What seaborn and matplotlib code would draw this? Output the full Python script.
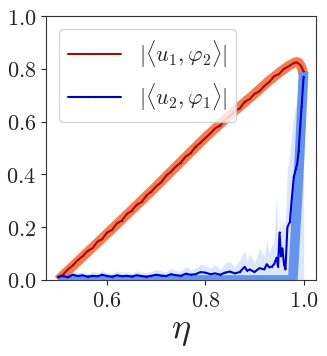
import matplotlib
matplotlib.use("Agg")

import matplotlib.pyplot as plt
import pandas as pd
import seaborn as sns

# theory curves
eta_th = [0.5, 0.55, 0.6, 0.65, 0.7, 0.75, 0.8, 0.85, 0.9, 0.93, 0.95, 0.97,
          0.98, 0.985, 0.99, 0.995, 1.0]
red_th = [0.0, 0.088, 0.176, 0.265, 0.355, 0.448, 0.54, 0.625, 0.705, 0.755,
          0.785, 0.812, 0.822, 0.826, 0.824, 0.81, 0.78]

eta_blue_th = [0.5, 0.978, 0.99, 1.0]
blue_th = [0.0, 0.0, 0.40, 0.79]

# measured |<u1, phi2>|
eta_red = [0.50, 0.51, 0.52, 0.53, 0.54, 0.55, 0.56, 0.57, 0.58, 0.59,
           0.60, 0.61, 0.62, 0.63, 0.64, 0.65, 0.66, 0.67, 0.68, 0.69,
           0.70, 0.71, 0.72, 0.73, 0.74, 0.75, 0.76, 0.77, 0.78, 0.79,
           0.80, 0.81, 0.82, 0.83, 0.84, 0.85, 0.86, 0.87, 0.88, 0.89,
           0.90, 0.91, 0.92, 0.93, 0.94, 0.95, 0.96, 0.97, 0.98, 0.985,
           0.99, 0.995, 1.0]
red_val = [0.01, 0.02, 0.04, 0.055, 0.075, 0.09, 0.11, 0.12, 0.145, 0.155,
           0.18, 0.19, 0.215, 0.225, 0.25, 0.262, 0.285, 0.295, 0.32, 0.335,
           0.355, 0.37, 0.395, 0.41, 0.43, 0.445, 0.468, 0.48, 0.505, 0.52,
           0.538, 0.555, 0.575, 0.585, 0.608, 0.62, 0.64, 0.65, 0.675, 0.685,
           0.705, 0.715, 0.735, 0.75, 0.772, 0.78, 0.80, 0.81, 0.822, 0.825,
           0.82, 0.81, 0.79]

# measured |<u2, phi1>| with spread
eta_blue = [0.50, 0.51, 0.52, 0.53, 0.54, 0.55, 0.56, 0.57, 0.58, 0.59,
            0.60, 0.61, 0.62, 0.63, 0.64, 0.65, 0.66, 0.67, 0.68, 0.69,
            0.70, 0.71, 0.72, 0.73, 0.74, 0.75, 0.76, 0.77, 0.78, 0.79,
            0.80, 0.81, 0.82, 0.83, 0.84, 0.85, 0.86, 0.87, 0.88, 0.885,
            0.89, 0.90, 0.91, 0.92, 0.925, 0.93, 0.935, 0.94, 0.945, 0.948,
            0.951, 0.954, 0.957, 0.96, 0.963, 0.967, 0.972, 0.976, 0.98, 0.984,
            0.987, 0.99, 0.993, 0.996, 1.0]
blue_val = [0.012, 0.015, 0.010, 0.020, 0.015, 0.018, 0.012, 0.016, 0.014, 0.020,
            0.015, 0.012, 0.018, 0.014, 0.016, 0.013, 0.018, 0.015, 0.012, 0.016,
            0.020, 0.017, 0.015, 0.022, 0.018, 0.016, 0.024, 0.020, 0.022, 0.030,
            0.028, 0.022, 0.025, 0.020, 0.028, 0.032, 0.025, 0.030, 0.050, 0.035,
            0.040, 0.030, 0.045, 0.040, 0.060, 0.048, 0.050, 0.060, 0.085, 0.050,
            0.180, 0.090, 0.120, 0.060, 0.040, 0.200, 0.220, 0.310, 0.390, 0.420,
            0.440, 0.490, 0.580, 0.660, 0.770]
blue_hi = [0.025, 0.030, 0.022, 0.035, 0.028, 0.030, 0.025, 0.032, 0.028, 0.035,
           0.028, 0.026, 0.034, 0.030, 0.032, 0.026, 0.035, 0.030, 0.028, 0.034,
           0.040, 0.035, 0.030, 0.045, 0.036, 0.034, 0.050, 0.040, 0.045, 0.060,
           0.055, 0.045, 0.060, 0.040, 0.065, 0.070, 0.050, 0.075, 0.110, 0.070,
           0.100, 0.065, 0.120, 0.090, 0.150, 0.100, 0.130, 0.150, 0.330, 0.120,
           0.250, 0.180, 0.240, 0.200, 0.240, 0.420, 0.480, 0.560, 0.620, 0.660,
           0.700, 0.740, 0.780, 0.800, 0.800]

xticks = [0.6, 0.8, 1.0]
yticks = [0.0, 0.2, 0.4, 0.6, 0.8, 1.0]

sns.set_style("ticks")
plt.rcParams["mathtext.fontset"] = "cm"
plt.rcParams["font.family"] = ["DejaVu Serif"]

red_df = pd.DataFrame({"eta": eta_red, "val": red_val})
blue_df = pd.DataFrame({"eta": eta_blue, "val": blue_val, "hi": blue_hi})

fig = plt.figure(figsize=(3.27, 3.56), dpi=100)
ax = fig.add_axes([0.14, 0.2135, 0.826, 0.7415])

ax.plot(eta_th, red_th, color="#f97a4e", lw=7, solid_capstyle="butt", zorder=1)
ax.plot(eta_blue_th, blue_th, color="#6495ed", lw=7, solid_capstyle="butt", zorder=2)
ax.fill_between(blue_df["eta"], 0, blue_df["hi"], color="#6495ed", alpha=0.22,
                lw=0, zorder=3)

sns.lineplot(data=red_df, x="eta", y="val", ax=ax, color="#a00d0d", lw=1.5,
             marker=".", markersize=2, markeredgewidth=0, zorder=4,
             label=r"$|\langle u_1, \varphi_2\rangle|$")
sns.lineplot(data=blue_df, x="eta", y="val", ax=ax, color="#0000cc", lw=1.5,
             marker=".", markersize=2, markeredgewidth=0, zorder=5,
             label=r"$|\langle u_2, \varphi_1\rangle|$")

ax.set_ylim(0, 1)
ax.set_xticks(xticks)
ax.set_xticklabels([f"${v:.1f}$" for v in xticks], fontsize=16)
ax.set_yticks(yticks)
ax.set_yticklabels([f"${v:.1f}$" for v in yticks], fontsize=16)
ax.set_xlabel(r"$\eta$", fontsize=26, labelpad=2)
ax.set_ylabel("")

for s in ax.spines.values():
    s.set_color("#333333")

ax.legend(loc="upper left", fontsize=16, handlelength=2.4, frameon=True,
          borderaxespad=0.6)

fig.savefig("out.png", dpi=100)
